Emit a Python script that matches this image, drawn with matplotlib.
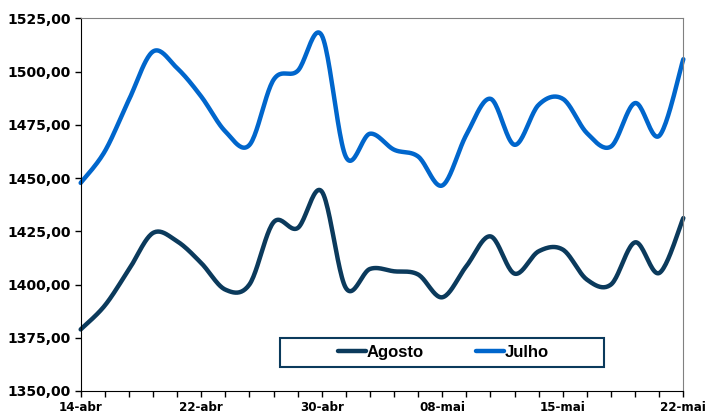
import numpy as np
import matplotlib
matplotlib.use("Agg")
import matplotlib.pyplot as plt
from matplotlib.patches import Rectangle
from matplotlib.ticker import FuncFormatter, MultipleLocator

# values (26 trading days)
julho = [1447.7, 1462.5, 1486.7, 1509.4, 1501.6, 1488.3, 1471.9, 1465.5, 1496.1, 1500.3,
         1517.0, 1460.0, 1470.8, 1463.3, 1460.1, 1446.5, 1470.3, 1487.2, 1465.6, 1484.4,
         1487.2, 1471.1, 1464.8, 1485.2, 1469.8, 1505.8]
agosto = [1378.9, 1390.1, 1407.0, 1424.2, 1420.3, 1410.1, 1397.6, 1400.0, 1429.2, 1426.5,
          1443.7, 1398.4, 1407.3, 1406.2, 1404.7, 1394.0, 1408.6, 1422.6, 1405.1, 1415.6,
          1416.4, 1402.3, 1400.0, 1419.8, 1405.4, 1431.2]
date_labels = ['14-abr', '22-abr', '30-abr', '08-mai', '15-mai', '22-mai']

c_julho = '#0066CC'
c_agosto = '#0B3A5C'


def smooth(y, n=24):
    # Excel style smoothed line (Catmull-Rom as cubic Bezier)
    y = np.asarray(y, dtype=float)
    x = np.arange(len(y), dtype=float)
    xs, ys = [], []
    t = np.linspace(0, 1, n, endpoint=False)
    for i in range(len(y) - 1):
        i0 = max(i - 1, 0)
        i3 = min(i + 2, len(y) - 1)
        p1 = np.array([x[i], y[i]])
        p2 = np.array([x[i + 1], y[i + 1]])
        c1 = p1 + (p2 - np.array([x[i0], y[i0]])) / 6
        c2 = p2 - (np.array([x[i3], y[i3]]) - p1) / 6
        pts = ((1 - t) ** 3)[:, None] * p1 + (3 * (1 - t) ** 2 * t)[:, None] * c1 \
            + (3 * (1 - t) * t ** 2)[:, None] * c2 + (t ** 3)[:, None] * p2
        xs.extend(pts[:, 0])
        ys.extend(pts[:, 1])
    xs.append(x[-1])
    ys.append(y[-1])
    return np.array(xs), np.array(ys)


fig = plt.figure(figsize=(7.07, 4.17), dpi=100)
ax = fig.add_axes([0.1141, 0.0624, 0.8524, 0.8937])

xa, ya = smooth(agosto)
xj, yj = smooth(julho)
ax.plot(xa, ya, color=c_agosto, lw=3.2, solid_capstyle='round', label='Agosto', clip_on=False)
ax.plot(xj, yj, color=c_julho, lw=3.2, solid_capstyle='round', label='Julho', clip_on=False)

ax.set_xlim(0, len(julho) - 1)
ax.set_ylim(1350, 1525)
ax.yaxis.set_major_locator(MultipleLocator(25))
ax.yaxis.set_major_formatter(FuncFormatter(lambda v, p: f'{v:.2f}'.replace('.', ',')))
ax.set_xticks(np.arange(0, len(julho), 5))
ax.set_xticklabels(date_labels)
ax.set_xticks(np.arange(len(julho)), minor=True)

for lab in ax.get_yticklabels():
    lab.set_fontweight('bold')
    lab.set_fontsize(10)
for lab in ax.get_xticklabels():
    lab.set_fontweight('bold')
    lab.set_fontsize(8.6)

ax.tick_params(axis='y', direction='out', length=4, width=1, pad=3, colors='black')
ax.tick_params(axis='x', which='both', direction='out', length=4, width=1, pad=3)

ax.spines['left'].set_color('black')
ax.spines['bottom'].set_color('black')
ax.spines['top'].set_color('#808080')
ax.spines['right'].set_color('#808080')

# legend box
fig.patches.append(Rectangle((280 / 707, 1 - 367 / 417), 324 / 707, 29 / 417,
                             transform=fig.transFigure, facecolor='white',
                             edgecolor=c_agosto, lw=1.5, zorder=5))
leg = fig.legend(loc='center', bbox_to_anchor=(0.627, 0.155), ncol=2, frameon=False,
                 prop={'family': 'Liberation Sans', 'weight': 'bold', 'size': 12},
                 handlelength=1.7, handletextpad=0.05, columnspacing=3.1)
leg.set_zorder(6)

fig.savefig('out.png', dpi=100)
